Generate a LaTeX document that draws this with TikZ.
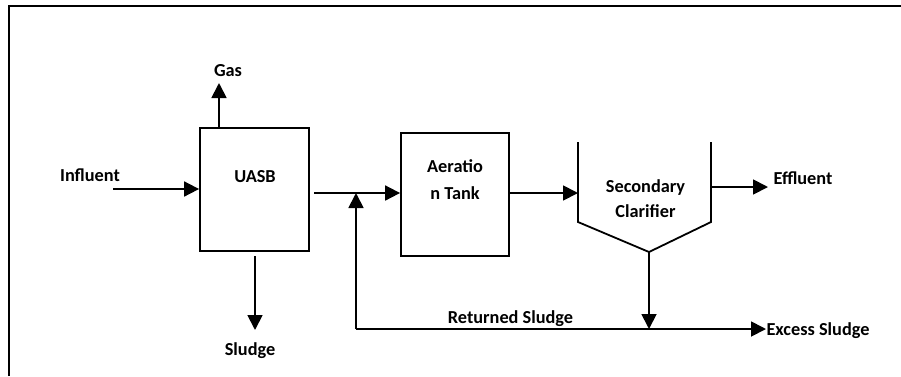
\documentclass[tikz,border=0pt]{standalone}
\usepackage{fontspec}
\setmainfont{Carlito}
\usetikzlibrary{arrows.meta}
\begin{document}
\begin{tikzpicture}[x=1pt,y=-1pt,
  flow/.style={line width=1.8pt,-{Triangle[length=15pt,width=15pt]}},
  plain/.style={line width=1.8pt},
  unit/.style={draw,line width=1.8pt,inner sep=0pt},
  lbl/.style={font=\bfseries\fontsize{18.3}{22}\selectfont,inner sep=0pt,anchor=base}]
\useasboundingbox (0,0) rectangle (901,376);
\draw[plain] (9,376) -- (9,6) -- (901,6);
% units
\node[unit,minimum width=109pt,minimum height=123pt] (uasb) at (254.5,189.5) {};
\node[lbl] (uasbt) at (255,182) {UASB};
\node[unit,minimum width=108pt,minimum height=123pt] (aer) at (455,194.5) {};
\node[lbl] (aert1) at (455,172) {Aeratio};
\node[lbl] (aert2) at (455,199) {n Tank};
% clarifier
\coordinate (cl1) at (578,142);
\coordinate (cl2) at (578,222);
\coordinate (clb) at (649,252);
\coordinate (cr2) at (711,222);
\coordinate (cr1) at (711,142);
\draw[plain,line join=miter] (cl1) -- (cl2) -- (clb) -- (cr2) -- (cr1);
\node[lbl] (sec1) at (645.5,192) {Secondary};
\node[lbl] (sec2) at (645.5,217) {Clarifier};
% labels
\node[lbl] (infl) at (90,181) {Influent};
\node[lbl] (gas) at (228,76) {Gas};
\node[lbl] (sludge) at (250,355) {Sludge};
\node[lbl] (effl) at (803,184) {Effluent};
\node[lbl] (ret) at (510.5,323) {Returned Sludge};
\node[lbl] (exc) at (818,335) {Excess Sludge};
% coordinates
\coordinate (inS) at (113,189);
\coordinate (inE) at (uasb.west |- inS);
\coordinate (gasS) at (219,128);
\coordinate (gasE) at (219,83);
\coordinate (slS) at (255,256);
\coordinate (slE) at (255,330);
\coordinate (outS) at (314,193);
\coordinate (outE) at (aer.west |- outS);
\coordinate (retB) at (356,329);
\coordinate (retE) at (356,193);
\coordinate (a2S) at (aer.east |- 0,193);
\coordinate (a2E) at (578,193);
\coordinate (efS) at (711,187);
\coordinate (efE) at (768,187);
\coordinate (cdE) at (649,329);
\coordinate (exE) at (766,329);
% connectors
\draw[flow] (inS) -- (inE);
\draw[flow] (gasS) -- (gasE);
\draw[flow] (slS) -- (slE);
\draw[flow] (outS) -- (outE);
\draw[flow] (retB) -- (retE);
\draw[flow] (a2S) -- (a2E);
\draw[flow] (efS) -- (efE);
\draw[flow] (clb) -- (cdE);
\draw[flow] (retB) -- (exE);
\end{tikzpicture}
\end{document}
